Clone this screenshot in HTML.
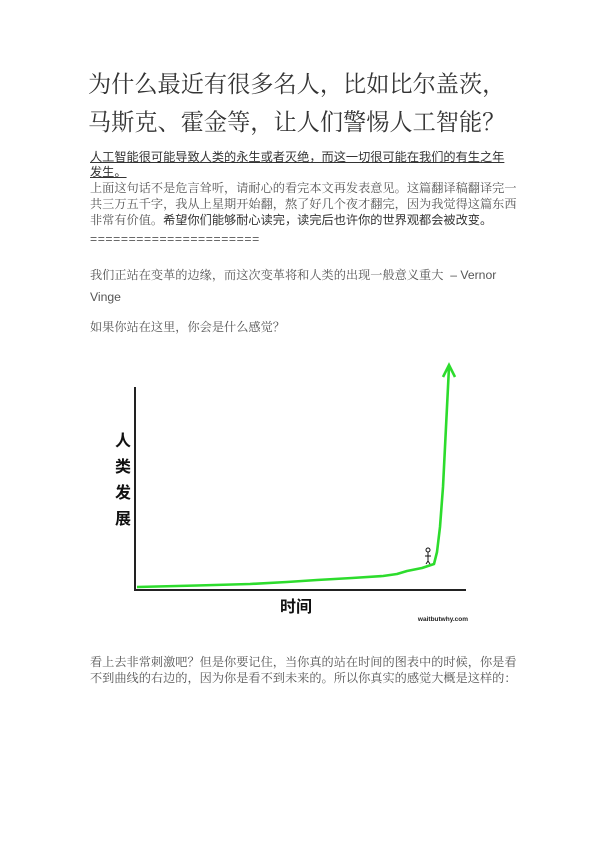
<!DOCTYPE html>
<html><head><meta charset="utf-8">
<style>
body{margin:0;width:596px;height:842px;background:#fff;position:relative;overflow:hidden;font-family:"Liberation Sans","Noto Serif CJK SC",serif;color:#555}
.t{position:absolute;left:90px;white-space:nowrap}
h1{position:absolute;left:88px;top:66px;margin:0;font-weight:normal;font-family:"Liberation Serif","Noto Serif CJK SC",serif;font-size:23.2px;line-height:38px;color:#333;white-space:nowrap}
.p{font-size:12.2px;color:#555}
.b{font-family:"Liberation Sans","Noto Sans CJK SC",sans-serif;color:#333}
</style></head><body>
<h1>为什么最近有很多名人，比如比尔盖茨，<br>马斯克、霍金等，让人们警惕人工智能？</h1>
<div class="t p b" style="top:150px;line-height:15px;text-decoration:underline">人工智能很可能导致人类的永生或者灭绝，而这一切很可能在我们的有生之年<br>发生。</div>
<div class="t p" style="top:180px;line-height:16px">上面这句话不是危言耸听，请耐心的看完本文再发表意见。这篇翻译稿翻译完一<br>共三万五千字，我从上星期开始翻，熬了好几个夜才翻完，因为我觉得这篇东西<br>非常有价值。<span class="b">希望你们能够耐心读完，读完后也许你的世界观都会被改变。</span></div>
<div class="t p" style="top:232px;letter-spacing:0.6px">======================</div>
<div class="t p" style="top:264px;line-height:22px">我们正站在变革的边缘，而这次变革将和人类的出现一般意义重大 &nbsp;– Vernor<br>Vinge</div>
<div class="t p" style="top:318px">如果你站在这里，你会是什么感觉？</div>
<svg style="position:absolute;left:0;top:0" width="596" height="842">
<g id="chart"></g>
</svg>
<div class="t p" style="top:654px;line-height:16px">看上去非常刺激吧？但是你要记住，当你真的站在时间的图表中的时候，你是看<br>不到曲线的右边的，因为你是看不到未来的。所以你真实的感觉大概是这样的：</div>
<script>
const times=[0,60,113,150,180,215,246,260,270,285,297,300,303,306,308,310,312];
const progress=[0,1.5,3,5,7,9,11,13,16,19,23,35,60,100,140,180,220];
const NS="http://www.w3.org/2000/svg";
const g=document.getElementById('chart');
const x0=137,y0=587;
const xS=t=>x0+t, yS=v=>y0-v;
function mk(tag,attrs){const e=document.createElementNS(NS,tag);for(const k in attrs)e.setAttribute(k,attrs[k]);g.appendChild(e);return e;}
let a=mk('path',{d:'M135 387 V590 H466',fill:'none',stroke:'#222','stroke-width':2});


let d=times.map((t,i)=>(i?'L':'M')+xS(t)+' '+yS(progress[i])).join(' ');
let c=mk('path',{d:d,fill:'none',stroke:'#2ddc2d','stroke-width':2.6,'stroke-linejoin':'round'});


const n=times.length-1,tx=xS(times[n]),ty=yS(progress[n]);
let ar=mk('path',{d:`M${tx-6} ${ty+10} L${tx} ${ty-2} L${tx+6} ${ty+10}`,fill:'none',stroke:'#2ddc2d','stroke-width':2.6});


const px=xS(times[10])-6,py=yS(progress[10]);
let sf=mk('path',{d:`M${px} ${py-12} V${py-3} M${px-3} ${py-8} H${px+3} M${px} ${py-3} L${px-2} ${py} M${px} ${py-3} L${px+2} ${py}`,fill:'none',stroke:'#111','stroke-width':1});


let hd=mk('circle',{cx:px,cy:py-14,r:2,fill:'none',stroke:'#111','stroke-width':1});


['人','类','发','展'].forEach((ch,i)=>{let t=mk('text',{x:123,y:446+i*26,'text-anchor':'middle','font-size':16,'font-weight':'bold','font-family':'"Noto Sans CJK SC",sans-serif',fill:'#111'});t.textContent=ch;

});
let xt=mk('text',{x:296,y:612,'text-anchor':'middle','font-size':16,'font-weight':'bold','font-family':'"Noto Sans CJK SC",sans-serif',fill:'#111'});xt.textContent='时间';


let wm=mk('text',{x:468,y:621,'text-anchor':'end','font-size':6.5,'font-weight':'bold','font-family':'"Liberation Sans",sans-serif',fill:'#222'});wm.textContent='waitbutwhy.com';


</script>
</body></html>
